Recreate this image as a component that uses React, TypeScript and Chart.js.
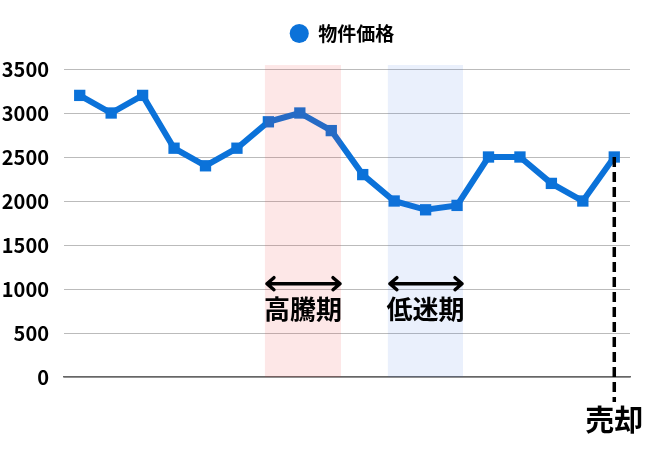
import { useEffect, useRef } from 'react';
import Chart from 'chart.js/auto';

const categories = ['1', '2', '3', '4', '5', '6', '7', '8', '9', '10', '11', '12', '13', '14', '15', '16', '17', '18'];
const prices = [3200, 3000, 3200, 2600, 2400, 2600, 2900, 3000, 2800, 2300, 2000, 1900, 1950, 2500, 2500, 2200, 2000, 2500];
const seriesName = '物件価格';

const bandLabels = ['高騰期', '低迷期'];
const bandStarts = [5.89, 9.8];
const bandEnds = [8.31, 12.19];
const bandColors = ['rgba(240, 60, 60, 0.12)', 'rgba(50, 110, 225, 0.1)'];
const saleLabel = '売却';
const saleIndex = 17;

const FONT = '"Noto Sans CJK JP", "Noto Sans", sans-serif';

// extra room under the legend, and the legend moved right of the page centre
const legendSpacing = {
    id: 'legendSpacing',
    beforeInit(chart: any) {
        const fit = chart.legend.fit;
        chart.legend.fit = function () {
            fit.call(this);
            this.height += 16;
        };
    },
    afterLayout(chart: any) {
        chart.legend.left = 54;
    },
};

const annotations = {
    id: 'annotations',
    afterDatasetsDraw(chart: Chart) {
        const { ctx, scales } = chart;
        const x = scales.x;
        const y = scales.y;
        const bandTop = y.getPixelForValue(3545);
        const bandBottom = y.getPixelForValue(0);
        const arrowY = y.getPixelForValue(1060);

        ctx.save();
        bandLabels.forEach((label, i) => {
            const left = x.getPixelForValue(bandStarts[i]);
            const right = x.getPixelForValue(bandEnds[i]);
            ctx.fillStyle = bandColors[i];
            ctx.fillRect(left, bandTop, right - left, bandBottom - bandTop);

            // double headed arrow
            ctx.strokeStyle = '#000';
            ctx.lineWidth = 3.5;
            ctx.lineCap = 'round';
            ctx.lineJoin = 'round';
            ctx.beginPath();
            ctx.moveTo(left + 2, arrowY);
            ctx.lineTo(right - 1, arrowY);
            ctx.moveTo(left + 9, arrowY - 6);
            ctx.lineTo(left + 2, arrowY);
            ctx.lineTo(left + 9, arrowY + 6);
            ctx.moveTo(right - 8, arrowY - 6);
            ctx.lineTo(right - 1, arrowY);
            ctx.lineTo(right - 8, arrowY + 6);
            ctx.stroke();

            ctx.fillStyle = '#000';
            ctx.font = `bold 26px ${FONT}`;
            ctx.textAlign = 'center';
            ctx.textBaseline = 'middle';
            ctx.fillText(label, (left + right) / 2, y.getPixelForValue(770));
        });

        // sale marker
        const saleX = x.getPixelForValue(saleIndex);
        ctx.strokeStyle = '#000';
        ctx.lineWidth = 3.5;
        ctx.lineCap = 'butt';
        ctx.setLineDash([10, 5]);
        ctx.beginPath();
        ctx.moveTo(saleX, y.getPixelForValue(prices[saleIndex]));
        ctx.lineTo(saleX, 402);
        ctx.stroke();
        ctx.setLineDash([]);
        ctx.fillStyle = '#000';
        ctx.font = `bold 29px ${FONT}`;
        ctx.textAlign = 'center';
        ctx.textBaseline = 'middle';
        ctx.fillText(saleLabel, saleX, 420);
        ctx.restore();
    },
};

const App = () => {
    const chartRef = useRef<HTMLCanvasElement>(null);

    useEffect(() => {
        if (chartRef.current) {
            const ctx = chartRef.current.getContext('2d');
            if (ctx) {
                const chart = new Chart(ctx, {
                    type: 'line',
                    data: {
                        labels: categories,
                        datasets: [
                            {
                                label: seriesName,
                                data: prices,
                                borderColor: '#0b72d9',
                                backgroundColor: '#0b72d9',
                                borderWidth: 6,
                                pointStyle: 'rect',
                                pointRadius: 8,
                                pointBorderWidth: 0,
                                tension: 0,
                                fill: false,
                                clip: false,
                            },
                        ],
                    },
                    options: {
                        responsive: false,
                        animation: false,
                        devicePixelRatio: 1,
                        layout: { padding: { left: 0, right: 20, top: 14, bottom: 65 } },
                        plugins: {
                            tooltip: { enabled: false },
                            legend: {
                                position: 'top',
                                onClick: () => {},
                                labels: {
                                    usePointStyle: true,
                                    pointStyle: 'circle',
                                    color: '#000',
                                    boxHeight: 13.5,
                                    padding: 10,
                                    font: { family: FONT, size: 19, weight: 'bold' },
                                },
                            },
                        },
                        scales: {
                            x: {
                                offset: true,
                                grid: { display: false },
                                border: { color: '#666', width: 1.5 },
                                ticks: { display: false },
                            },
                            y: {
                                min: 0,
                                max: 3500,
                                afterFit: (scale) => {
                                    scale.width = 64;
                                },
                                border: { display: false },
                                grid: { color: '#bbb', lineWidth: 1, drawTicks: false },
                                ticks: {
                                    stepSize: 500,
                                    color: '#000',
                                    padding: 15,
                                    callback: (value) => String(value),
                                    font: { family: FONT, size: 20, weight: 'bold' },
                                },
                            },
                        },
                    },
                    plugins: [legendSpacing, annotations],
                });

                return () => {
                    chart.destroy();
                };
            }
        }
    }, []);

    return (
        <canvas
            ref={chartRef}
            width={650}
            height={450}
            style={{ position: 'absolute', left: 0, top: 0 }}
        />
    );
};

export default App;
